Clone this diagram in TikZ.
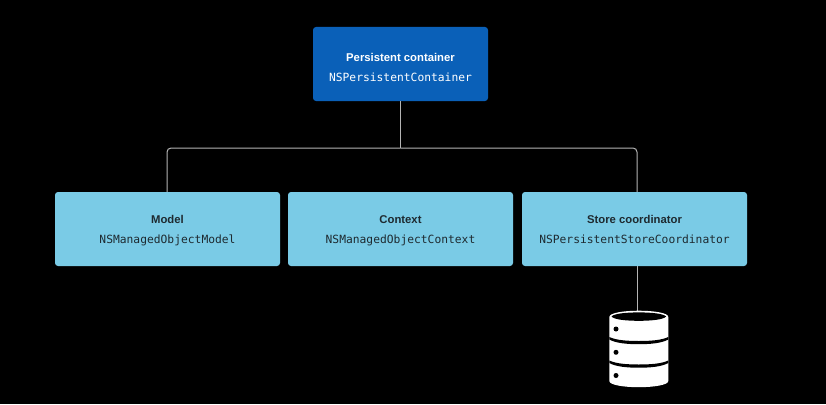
\documentclass[tikz,border=0pt]{standalone}
\usepackage{fontspec}
\setmainfont{Liberation Sans}
\newfontfamily\codefont{DejaVu Sans Mono}
\definecolor{topblue}{HTML}{0A60B8}
\definecolor{lightblue}{HTML}{7ACBE6}
\definecolor{darktext}{HTML}{1E2A30}
\definecolor{wire}{HTML}{B4B4B4}
\tikzset{
  x=1pt,y=-1pt,
  box/.style={rounded corners=3pt,minimum height=74pt,align=center,inner sep=0pt},
  wideb/.style={box,minimum width=225pt,fill=lightblue,text=darktext},
  topb/.style={box,minimum width=175pt,fill=topblue,text=white},
  wirel/.style={draw=wire,line width=1pt,rounded corners=4pt}
}
\newcommand{\boxtext}[3][12pt]{{\fontsize{11.3}{14}\selectfont\bfseries\rule{0pt}{#1}\rule[-3pt]{0pt}{3pt}#2}\\[8.2pt]{\fontsize{11.3}{14}\selectfont\codefont\rule{0pt}{9pt}\rule[-3pt]{0pt}{3pt}#3}}
\begin{document}
\begin{tikzpicture}
\useasboundingbox[fill=black] (0,0) rectangle (826,404);
\node[topb] (pc) at (400.5,64) {\boxtext[18.6pt]{Persistent container}{NSPersistentContainer}};
\node[wideb] (model) at (167.5,229) {\boxtext{Model}{NSManagedObjectModel}};
\node[wideb] (ctx) at (400.5,229) {\boxtext{Context}{NSManagedObjectContext}};
\node[wideb] (store) at (634.5,229) {\boxtext{Store coordinator}{NSPersistentStoreCoordinator}};
\coordinate (bus) at (pc.south |- 0,148);
\coordinate (modeltop) at ([xshift=-0.5pt]model.north);
\coordinate (storetop) at ([xshift=2.5pt]store.north);
\coordinate (storebot) at ([xshift=2.5pt]store.south);
\coordinate (db) at (637,311);
\draw[wirel] (pc.south) -- (bus);
\draw[wirel] (bus) -- (bus -| modeltop) -- (modeltop);
\draw[wirel] (bus) -- (bus -| storetop) -- (storetop);
\draw[wirel,rounded corners=0pt] (storebot) -- (db);
% database icon
\fill[white] (609.3,317) .. controls (609.3,312.8) and (624,310.7) .. (638.8,310.7)
  .. controls (653.6,310.7) and (668.3,312.8) .. (668.3,317)
  -- (668.3,381) .. controls (668.3,385) and (653.6,387.2) .. (638.8,387.2)
  .. controls (624,387.2) and (609.3,385) .. (609.3,381) -- cycle;
\fill[black] (611.5,316.5) .. controls (614,313.6) and (626,312.4) .. (638.8,312.4)
  .. controls (651.6,312.4) and (663.5,313.6) .. (666.1,316.5)
  .. controls (663.5,319.6) and (651.6,320.8) .. (638.8,320.8)
  .. controls (626,320.8) and (614,319.6) .. (611.5,316.5) -- cycle;
\foreach \yy in {337,360.5}{
  \fill[black] (609.3,\yy) .. controls (616,\yy+3.2) and (627,\yy+4) .. (638.8,\yy+4)
    .. controls (650.6,\yy+4) and (661.6,\yy+3.2) .. (668.3,\yy)
    -- (668.3,\yy+2.5) .. controls (661.6,\yy+6.2) and (650.6,\yy+7.2) .. (638.8,\yy+7.2)
    .. controls (627,\yy+7.2) and (616,\yy+6.2) .. (609.3,\yy+2.5) -- cycle;
}
\foreach \yy in {329,352.3,375.5}{\fill[black] (616,\yy) circle (2.5);}
\end{tikzpicture}
\end{document}
